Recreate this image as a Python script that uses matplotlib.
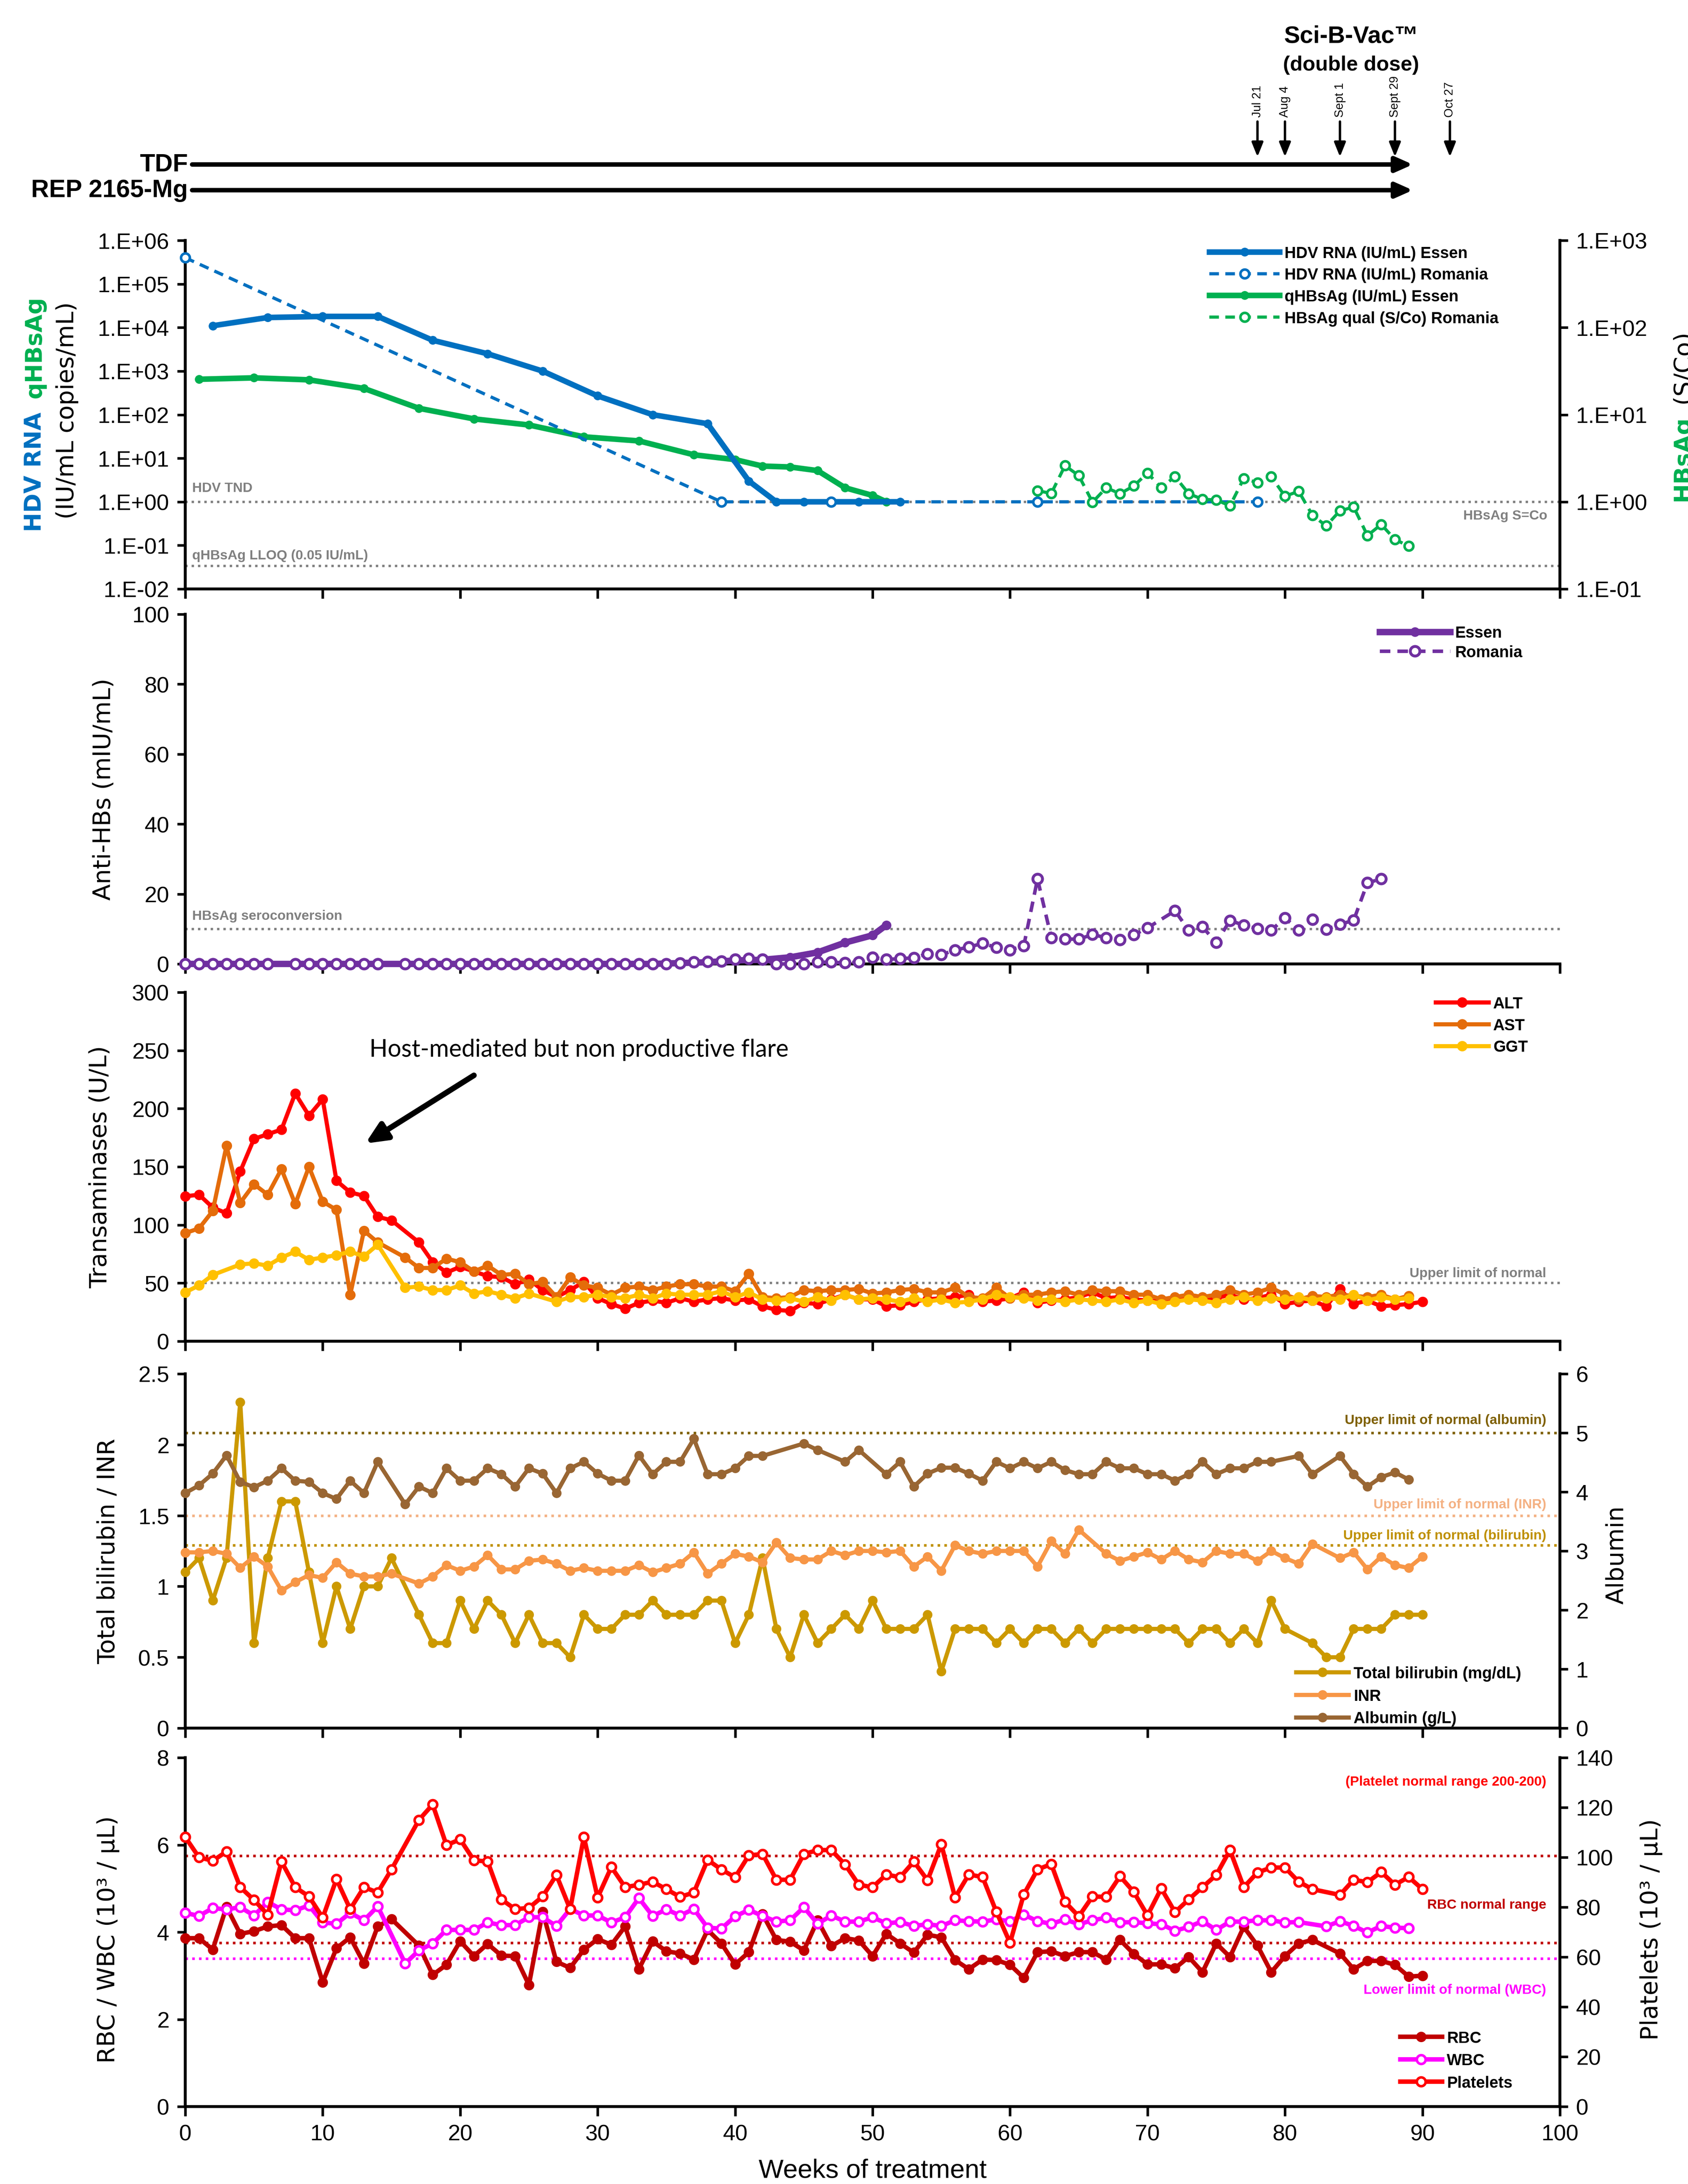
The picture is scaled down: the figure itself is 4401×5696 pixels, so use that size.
import numpy as np
import matplotlib
matplotlib.use('Agg')
import matplotlib.pyplot as plt

plt.rcParams['font.family'] = ['Liberation Sans', 'DejaVu Sans']
plt.rcParams['axes.linewidth'] = 1.8

# ---------------- header (treatment bars, vaccine doses) ----------------
drug_labels = ['TDF', 'REP 2165-Mg']
drug_end_week = 89.3
vac_weeks = [78, 80, 84, 88, 92]
vac_dates = ['Jul 21', 'Aug 4', 'Sept 1', 'Sept 29', 'Oct 27']

# ---------------- panel 1: HDV RNA / HBsAg ----------------
hdv_essen_wk = [2, 6, 10, 14, 18, 22, 26, 30, 34, 38, 41, 43, 45, 49, 52]
hdv_essen = [1.1e4, 1.7e4, 1.8e4, 1.8e4, 5.1e3, 2.5e3, 1.0e3, 2.7e2, 1.0e2, 62, 3.0, 1, 1, 1, 1]
hdv_rom_wk = [0, 39, 47, 62, 78]
hdv_rom = [4.0e5, 1, 1, 1, 1]
qhbs_essen_wk = [1, 5, 9, 13, 17, 21, 25, 29, 33, 37, 40, 42, 44, 46, 48, 50, 51]
qhbs_essen = [650, 700, 630, 400, 140, 80, 58, 31, 25, 12, 9.3, 6.6, 6.3, 5.2, 2.1, 1.4, 1.0]
hbs_qual_wk = list(range(62, 90))
hbs_qual = [1.34, 1.25, 2.6, 2.0, 0.99, 1.45, 1.24, 1.52, 2.14, 1.45, 1.95, 1.24, 1.07, 1.05,
            0.90, 1.85, 1.66, 1.95, 1.16, 1.32, 0.70, 0.53, 0.79, 0.87, 0.41, 0.55, 0.37, 0.31]

# ---------------- panel 2: anti-HBs ----------------
ab_essen_wk = [0, 2, 6, 10, 14, 18, 22, 26, 30, 34, 38, 40, 42, 44, 46, 48, 50, 51]
ab_essen = [0, 0, 0, 0, 0, 0, 0, 0, 0, 0, 0.5, 1.0, 1.2, 1.9, 3.3, 6.1, 8.2, 11.1]
ab_rom_wk = ([0, 1, 2, 3, 4, 5, 6, 8, 9, 10, 11, 12, 13, 14] + list(range(16, 71)) + list(range(72, 88)))
ab_rom = [0, 0, 0, 0, 0, 0, 0, 0, 0, 0, 0, 0, 0, 0,
          0, 0, 0, 0, 0, 0, 0, 0, 0, 0, 0, 0, 0, 0, 0, 0, 0, 0, 0, 0,
          0.2, 0.5, 0.7, 0.8, 1.3, 1.5, 1.3, 0.0, 0.0, 0.0, 0.5, 0.5, 0.3, 0.5, 1.9,
          1.3, 1.5, 1.75, 2.9, 2.6, 4.0, 4.8, 5.9, 4.7, 4.0, 5.2, 24.3, 7.5, 7.1, 7.1, 8.4,
          7.5, 6.9, 8.3, 10.3,
          15.2, 9.6, 10.6, 6.1, 12.4, 11.1, 10.1, 9.6, 13.2, 9.6, 12.7, 9.9, 11.3, 12.5, 23.2, 24.3]

# ---------------- panel 3: transaminases ----------------
alt_wk = list(range(0, 16)) + list(range(17, 91))
alt = [124.6, 126, 115, 110, 146, 174, 178, 182, 213, 194, 208, 138, 128, 125, 107, 104,
       85, 68, 59, 64, 60, 56, 55, 49, 53, 44, 38, 44, 51, 37, 32, 28, 33, 35, 33, 37, 34,
       36, 37, 35, 36, 30, 27, 26, 33, 32, 36, 40, 36, 36, 30, 31, 34, 36, 37, 38, 40, 34, 35,
       37, 42, 33, 35, 36, 38, 42, 37, 38, 36, 35, 34, 36, 38, 36, 37, 40, 36, 37, 40, 32, 34,
       35, 30, 45, 32, 35, 30, 31, 32, 34]
ast_wk = list(range(0, 15)) + list(range(16, 90))
ast = [93, 97, 112, 168, 119, 135, 126, 148, 118, 150, 120, 113, 40, 95, 85,
       72, 63, 63, 71, 68, 60, 65, 57, 58, 49, 51, 38, 55, 48, 46, 40, 46, 47, 44, 47, 49, 49,
       47, 47, 43, 58, 38, 37, 38, 44, 43, 44, 44, 45, 41, 42, 44, 45, 42, 42, 46, 38, 37, 46,
       37, 40, 40, 42, 43, 40, 44, 43, 43, 40, 40, 36, 38, 40, 38, 40, 44, 40, 42, 46, 40, 36,
       39, 38, 40, 39, 38, 40, 36, 39]
ggt_wk = [0, 1, 2] + list(range(4, 15)) + list(range(16, 26)) + list(range(27, 90))
ggt = [42, 48, 57, 66, 67, 65, 72, 77, 70, 72, 74, 77, 73, 83,
       46, 47, 44, 44, 48, 41, 43, 40, 37, 41,
       34, 38, 38, 40, 38, 37, 40, 37, 41, 40, 40,
       40, 43, 38, 42, 36, 35, 37, 34, 38, 35, 40, 36, 37, 36, 34, 37, 34, 36, 33, 34,
       36, 40, 38, 37, 35, 36, 34, 36, 35, 34, 36, 33, 35, 32, 34, 36, 35, 33, 36, 38,
       35, 37, 36, 38, 35, 37, 36, 40, 35, 38, 36, 37]

# ---------------- panel 4: bilirubin / INR / albumin ----------------
bili_wk = list(range(0, 16)) + list(range(17, 81)) + list(range(82, 91))
bili = [1.1, 1.2, 0.9, 1.2, 2.3, 0.6, 1.2, 1.6, 1.6, 1.1, 0.6, 1.0, 0.7, 1.0, 1.0, 1.2,
        0.8, 0.6, 0.6, 0.9, 0.7, 0.9, 0.8, 0.6, 0.8, 0.6, 0.6, 0.5, 0.8, 0.7, 0.7, 0.8, 0.8,
        0.9, 0.8, 0.8, 0.8, 0.9, 0.9, 0.6, 0.8, 1.2, 0.7, 0.5, 0.8, 0.6, 0.7, 0.8, 0.7, 0.9,
        0.7, 0.7, 0.7, 0.8, 0.4, 0.7, 0.7, 0.7, 0.6, 0.7, 0.6, 0.7, 0.7, 0.6, 0.7, 0.6, 0.7,
        0.7, 0.7, 0.7, 0.7, 0.7, 0.6, 0.7, 0.7, 0.6, 0.7, 0.6, 0.9, 0.7,
        0.6, 0.5, 0.5, 0.7, 0.7, 0.7, 0.8, 0.8, 0.8]
inr_wk = list(range(0, 16)) + list(range(17, 66)) + list(range(67, 83)) + list(range(84, 91))
inr = [1.24, 1.24, 1.25, 1.23, 1.13, 1.21, 1.14, 0.97, 1.03, 1.08, 1.06, 1.17, 1.09, 1.07, 1.07, 1.09,
       1.02, 1.07, 1.15, 1.11, 1.14, 1.22, 1.12, 1.12, 1.18, 1.19, 1.16, 1.11, 1.13, 1.11, 1.11,
       1.11, 1.15, 1.10, 1.13, 1.16, 1.24, 1.09, 1.16, 1.23, 1.21, 1.17, 1.31, 1.20, 1.19, 1.19,
       1.25, 1.22, 1.25, 1.25, 1.24,
       1.25, 1.14, 1.21, 1.11, 1.29, 1.25, 1.23, 1.25, 1.25, 1.25, 1.14, 1.32, 1.23, 1.40,
       1.23, 1.18, 1.21, 1.24, 1.19, 1.25, 1.19, 1.17, 1.25, 1.23, 1.23, 1.18, 1.25, 1.20, 1.16, 1.30,
       1.20, 1.24, 1.12, 1.21, 1.15, 1.13, 1.21]
alb_wk = (list(range(0, 15)) + list(range(16, 43)) + [45, 46, 48, 49] + list(range(51, 80))
          + [81, 82, 84, 85, 86, 87, 88, 89])
alb = [3.98, 4.11, 4.31, 4.62, 4.17, 4.08, 4.19, 4.40, 4.19, 4.17, 3.98, 3.88, 4.19, 3.98, 4.51,
       3.79, 4.09, 3.98, 4.40, 4.19, 4.19, 4.40, 4.30, 4.09, 4.40, 4.31, 3.98, 4.40, 4.51, 4.31,
       4.19, 4.19, 4.62, 4.30, 4.51, 4.51, 4.90, 4.30, 4.30, 4.40, 4.61, 4.61,
       4.82, 4.71, 4.51, 4.71,
       4.30, 4.51, 4.09, 4.31, 4.41, 4.41, 4.31, 4.19, 4.51, 4.40, 4.51, 4.40, 4.51, 4.37, 4.30,
       4.30, 4.51, 4.40, 4.40, 4.30, 4.30, 4.19, 4.30, 4.51, 4.30, 4.40, 4.40, 4.51, 4.51,
       4.61, 4.30, 4.61, 4.30, 4.09, 4.25, 4.33, 4.21]

# ---------------- panel 5: RBC / WBC / platelets ----------------
plt_wk = list(range(0, 16)) + list(range(17, 83)) + list(range(84, 91))
platelets = [108.1, 100.0, 98.6, 102.3, 88.0, 82.9, 77.0, 98.3, 88.0, 84.3, 75.8, 91.2, 79.2, 88.0, 85.9, 95.1,
             115.0, 121.2, 104.9, 107.2, 98.8, 98.3, 83.1, 79.2, 79.7, 84.3, 92.9, 79.2, 108.1, 83.9,
             96.1, 88.0, 89.0, 90.2, 87.2, 84.1, 85.9, 99.0, 95.1, 92.0, 100.8, 101.3, 91.0, 91.0,
             101.3, 102.9, 102.9, 97.1, 89.0, 88.0,
             93.1, 92.0, 98.3, 90.8, 105.2, 83.9, 93.1, 92.1, 78.2, 65.7, 85.1, 95.1, 97.3, 82.1,
             76.3, 84.3, 84.1, 92.4, 86.1, 76.7, 87.5, 78.0, 83.1, 88.0, 92.9, 102.9, 88.0, 93.9,
             95.9, 95.9, 90.2, 87.2,
             84.9, 91.0, 90.0, 94.1, 89.0, 92.1, 87.2]
rbc_wk = list(range(0, 16)) + list(range(17, 83)) + list(range(84, 91))
rbc = [3.86, 3.86, 3.60, 4.58, 3.96, 4.02, 4.13, 4.16, 3.86, 3.86, 2.85, 3.63, 3.88, 3.28, 4.13, 4.30,
       3.69, 3.02, 3.25, 3.79, 3.45, 3.73, 3.46, 3.45, 2.79, 4.47, 3.32, 3.18, 3.60, 3.84, 3.71,
       4.13, 3.15, 3.79, 3.56, 3.51, 3.37, 4.05, 3.74, 3.26, 3.54, 4.41, 3.82, 3.78, 3.58, 4.27,
       3.68, 3.86, 3.81, 3.45,
       3.96, 3.74, 3.53, 3.94, 3.88, 3.36, 3.15, 3.37, 3.36, 3.25, 2.95, 3.54, 3.56, 3.45, 3.54,
       3.54, 3.37, 3.82, 3.50, 3.26, 3.26, 3.17, 3.43, 3.08, 3.74, 3.43, 4.12, 3.69, 3.08, 3.45,
       3.74, 3.82,
       3.51, 3.15, 3.34, 3.34, 3.25, 2.98, 3.00]
wbc_wk = list(range(0, 15)) + list(range(16, 82)) + list(range(83, 90))
wbc = [4.44, 4.37, 4.55, 4.52, 4.57, 4.38, 4.69, 4.52, 4.50, 4.61, 4.22, 4.19, 4.44, 4.27, 4.59,
       3.28, 3.58, 3.74, 4.05, 4.05, 4.05, 4.22, 4.16, 4.16, 4.34, 4.34, 4.14, 4.53, 4.38, 4.38,
       4.22, 4.34, 4.78, 4.37, 4.52, 4.38, 4.53, 4.10, 4.08, 4.36, 4.51, 4.37, 4.24, 4.27, 4.57,
       4.19, 4.38, 4.24, 4.24, 4.34,
       4.20, 4.23, 4.14, 4.18, 4.14, 4.27, 4.25, 4.24, 4.29, 4.25, 4.40, 4.25, 4.19, 4.29, 4.18,
       4.27, 4.33, 4.22, 4.23, 4.20, 4.18, 4.03, 4.12, 4.25, 4.05, 4.24, 4.24, 4.27, 4.27, 4.22, 4.23,
       4.13, 4.25, 4.14, 3.99, 4.14, 4.10, 4.09]

# colours
BLUE, GREEN, PURPLE = '#0070C0', '#00B050', '#7030A0'
C_ALT, C_AST, C_GGT = '#FF0000', '#E46C0A', '#FFC000'
C_BILI, C_INR, C_ALB = '#CC9900', '#F79646', '#996633'
C_RBC, C_WBC, C_PLT = '#C00000', '#FF00FF', '#FF0000'
GREY = '#808080'

FW, FH = 4401, 5697
fig = plt.figure(figsize=(FW / 300, FH / 300), dpi=300)

L = 483 / FW
W = (4067 - 483) / FW


def rect(top_px, bot_px):
    return [L, 1 - bot_px / FH, W, (bot_px - top_px) / FH]


def make_ax(r, show_x=False):
    ax = fig.add_axes(r)
    ax.set_xlim(0, 100)
    ax.set_xticks(range(0, 101, 10))
    ax.tick_params(axis='y', direction='out', length=5, width=1.6, labelsize=14, pad=5)
    ax.tick_params(axis='x', direction='out', length=6, width=1.6, labelsize=14, pad=5,
                   labelbottom=show_x)
    ax.spines['top'].set_visible(False)
    ax.spines['right'].set_visible(False)
    return ax


def make_twin(ax):
    tw = ax.twinx()
    tw.spines['top'].set_visible(False)
    tw.spines['left'].set_visible(False)
    tw.spines['bottom'].set_visible(False)
    tw.spines['right'].set_linewidth(1.8)
    tw.tick_params(axis='y', direction='out', length=5, width=1.6, labelsize=14, pad=5)
    return tw


def ylab(ax, text, x, y=0.5):
    ax.set_ylabel(text, fontsize=15, fontfamily='DejaVu Sans')
    ax.yaxis.set_label_coords(x, y)


def note(ax, x, y, text, color, ha='right', va='bottom', size=8.5):
    ax.text(x, y, text, color=color, ha=ha, va=va, fontsize=size, fontweight='bold')


# ================= header =================
HH = 560
axh = fig.add_axes([L, 1 - HH / FH, W, HH / FH])
axh.set_xlim(0, 100)
axh.set_ylim(HH, 0)
axh.axis('off')
for yy, lab in zip([430, 497], drug_labels):
    axh.annotate('', xy=(drug_end_week, yy), xytext=(0.5, yy),
                 arrowprops=dict(arrowstyle='-|>,head_length=0.45,head_width=0.2', lw=2.8,
                                 color='black', mutation_scale=20, shrinkA=0, shrinkB=0))
    axh.text(0.2, yy, lab, ha='right', va='center', fontsize=15.5, fontweight='bold')
for wk, dt in zip(vac_weeks, vac_dates):
    axh.annotate('', xy=(wk, 410), xytext=(wk, 318),
                 arrowprops=dict(arrowstyle='-|>,head_length=0.5,head_width=0.2', lw=1.5,
                                 color='black', mutation_scale=15, shrinkA=0, shrinkB=0))
    axh.text(wk, 306, dt, rotation=90, ha='center', va='bottom', fontsize=7.5)
axh.text(84.8, 95, 'Sci-B-Vac\u2122', ha='center', va='center', fontsize=15, fontweight='bold')
axh.text(84.8, 170, '(double dose)', ha='center', va='center', fontsize=13, fontweight='bold')

# ================= panel 1 =================
ax1 = make_ax(rect(628, 1537))
ax1.set_yscale('log')
ax1.set_ylim(1e-2, 1e6)
ax1.set_yticks([10.0 ** e for e in range(-2, 7)], [f'1.E{e:+03d}' for e in range(-2, 7)])
ax1.minorticks_off()
ax1.axhline(1.0, color=GREY, ls=':', lw=1.5, zorder=1)
ax1.axhline(0.0338, color=GREY, ls=':', lw=1.5, zorder=1)
note(ax1, 0.5, 1.5, 'HDV TND', GREY, ha='left')
note(ax1, 0.5, 0.042, 'qHBsAg LLOQ (0.05 IU/mL)', GREY, ha='left')
note(ax1, 99.1, 0.68, 'HBsAg S=Co', GREY, va='top')
l_he, = ax1.plot(hdv_essen_wk, hdv_essen, color=BLUE, lw=3.5, marker='o', ms=4.5,
                 label='HDV RNA (IU/mL) Essen', clip_on=False, zorder=4)
l_hr, = ax1.plot(hdv_rom_wk, hdv_rom, color=BLUE, lw=2, ls=(0, (3, 2)), marker='o', ms=5.5,
                 mfc='white', mew=1.6, label='HDV RNA (IU/mL) Romania', clip_on=False, zorder=5)
l_qe, = ax1.plot(qhbs_essen_wk, qhbs_essen, color=GREEN, lw=3.5, marker='o', ms=4.5,
                 label='qHBsAg (IU/mL) Essen', clip_on=False, zorder=3)
ax1r = make_twin(ax1)
ax1r.set_yscale('log')
ax1r.set_ylim(1e-1, 1e3)
ax1r.set_yticks([10.0 ** e for e in range(-1, 4)], [f'1.E{e:+03d}' for e in range(-1, 4)])
ax1r.minorticks_off()
l_qr, = ax1r.plot(hbs_qual_wk, hbs_qual, color=GREEN, lw=2, ls=(0, (3, 2)), marker='o', ms=5.5,
                  mfc='white', mew=1.6, label='HBsAg qual (S/Co) Romania')
ax1r.legend(handles=[l_he, l_hr, l_qe, l_qr], loc='upper left', bbox_to_anchor=(0.745, 0.985),
            frameon=False, prop={'weight': 'bold', 'size': 10}, handlelength=4.4,
            handletextpad=0.3, labelspacing=0.4, borderpad=0, borderaxespad=0)
fig.text(61 / FW, 1 - 1387 / FH, 'HDV RNA', rotation=90, ha='left', va='bottom', color=BLUE,
         fontsize=14.5, fontweight='bold', fontfamily='DejaVu Sans')
fig.text(61 / FW, 1 - 1039 / FH, 'qHBsAg', rotation=90, ha='left', va='bottom', color=GREEN,
         fontsize=14.5, fontweight='bold', fontfamily='DejaVu Sans')
fig.text(145 / FW, 1 - 1071 / FH, '(IU/mL copies/mL)', rotation=90, ha='left', va='center',
         fontsize=15, fontfamily='DejaVu Sans')
fig.text(4357 / FW, 1 - 1307 / FH, 'HBsAg', rotation=90, ha='left', va='bottom', color=GREEN,
         fontsize=14.5, fontweight='bold', fontfamily='DejaVu Sans')
fig.text(4357 / FW, 1 - 1052 / FH, '(S/Co)', rotation=90, ha='left', va='bottom',
         fontsize=15, fontfamily='DejaVu Sans')

# ================= panel 2 =================
ax2 = make_ax(rect(1603, 2515))
ax2.set_ylim(0, 100)
ax2.set_yticks(range(0, 101, 20))
ax2.axhline(10, color=GREY, ls=':', lw=1.5, zorder=1)
note(ax2, 0.5, 12.0, 'HBsAg seroconversion', GREY, ha='left')
l_ae, = ax2.plot(ab_essen_wk, ab_essen, color=PURPLE, lw=4, marker='o', ms=5,
                 label='Essen', clip_on=False, zorder=4)
l_ar, = ax2.plot(ab_rom_wk, ab_rom, color=PURPLE, lw=2.2, ls=(0, (3, 2)), marker='o', ms=6,
                 mfc='white', mew=1.8, label='Romania', clip_on=False, zorder=5)
ax2.legend(handles=[l_ae, l_ar], loc='upper left', bbox_to_anchor=(0.869, 0.968),
           frameon=False, prop={'weight': 'bold', 'size': 10}, handlelength=4.4,
           handletextpad=0.3, labelspacing=0.25, borderpad=0, borderaxespad=0)
ylab(ax2, 'Anti-HBs (mIU/mL)', -0.051)

# ================= panel 3 =================
ax3 = make_ax(rect(2589, 3499))
ax3.set_ylim(0, 300)
ax3.set_yticks(range(0, 301, 50))
ax3.axhline(50, color=GREY, ls=':', lw=1.5, zorder=1)
note(ax3, 99, 53, 'Upper limit of normal', GREY)
l_alt, = ax3.plot(alt_wk, alt, color=C_ALT, lw=2.6, marker='o', ms=5.5, label='ALT',
                  clip_on=False, zorder=4)
l_ast, = ax3.plot(ast_wk, ast, color=C_AST, lw=2.6, marker='o', ms=5.5, label='AST',
                  clip_on=False, zorder=5)
l_ggt, = ax3.plot(ggt_wk, ggt, color=C_GGT, lw=2.6, marker='o', ms=5.5, label='GGT',
                  clip_on=False, zorder=6)
ax3.legend(handles=[l_alt, l_ast, l_ggt], loc='upper left', bbox_to_anchor=(0.9096, 0.989),
           frameon=False, prop={'weight': 'bold', 'size': 10}, handlelength=3.3,
           handletextpad=0.3, labelspacing=0.4, borderpad=0, borderaxespad=0)
ax3.annotate('', xy=(13.1, 170), xytext=(21.0, 228.6),
             arrowprops=dict(arrowstyle='-|>,head_length=0.55,head_width=0.25', lw=3.5,
                             color='black', mutation_scale=20, shrinkA=0, shrinkB=0))
ax3.text(13.4, 251, 'Host-mediated but non productive flare', ha='left', va='center',
         fontsize=15, fontfamily='Lato')
ylab(ax3, 'Transaminases (U/L)', -0.0536)

# ================= panel 4 =================
ax4 = make_ax(rect(3584, 4508))
ax4.set_ylim(0, 2.5)
ax4.set_yticks([0, 0.5, 1, 1.5, 2, 2.5], ['0', '0.5', '1', '1.5', '2', '2.5'])
ax4.axhline(2.5 * 5 / 6, color='#7F6000', ls=':', lw=1.6, zorder=1)
ax4.axhline(1.5, color='#F4B183', ls=':', lw=1.6, zorder=1)
ax4.axhline(1.29, color='#BF9000', ls=':', lw=1.6, zorder=1)
note(ax4, 99, 2.13, 'Upper limit of normal (albumin)', '#7F6000')
note(ax4, 99, 1.535, 'Upper limit of normal (INR)', '#F4B183')
note(ax4, 99, 1.315, 'Upper limit of normal (bilirubin)', '#BF9000')
l_bili, = ax4.plot(bili_wk, bili, color=C_BILI, lw=2.6, marker='o', ms=5,
                   label='Total bilirubin (mg/dL)', clip_on=False, zorder=4)
l_inr, = ax4.plot(inr_wk, inr, color=C_INR, lw=2.6, marker='o', ms=5, label='INR',
                  clip_on=False, zorder=5)
ylab(ax4, 'Total bilirubin / INR', -0.0477)
ax4r = make_twin(ax4)
ax4r.set_ylim(0, 6)
ax4r.set_yticks(range(0, 7))
l_alb, = ax4r.plot(alb_wk, alb, color=C_ALB, lw=2.6, marker='o', ms=5, label='Albumin (g/L)',
                   clip_on=False)
ax4r.legend(handles=[l_bili, l_inr, l_alb], loc='lower left', bbox_to_anchor=(0.808, 0.005),
            frameon=False, prop={'weight': 'bold', 'size': 10}, handlelength=3.3,
            handletextpad=0.3, labelspacing=0.45, borderpad=0, borderaxespad=0)
ax4r.set_ylabel('Albumin', fontsize=15, fontfamily='DejaVu Sans')
ax4r.yaxis.set_label_coords(1.033, 0.49)

# ================= panel 5 =================
ax5 = make_ax(rect(4585, 5495), show_x=True)
ax5.set_ylim(0, 8)
ax5.set_yticks(range(0, 9, 2))
ax5.axhline(5.75, color=C_RBC, ls=':', lw=1.6, zorder=1)
ax5.axhline(3.75, color=C_RBC, ls=':', lw=1.6, zorder=1)
ax5.axhline(3.39, color=C_WBC, ls=':', lw=1.6, zorder=1)
note(ax5, 99, 7.45, '(Platelet normal range 200-200)', C_PLT, va='center')
note(ax5, 99, 4.63, 'RBC normal range', C_RBC, va='center')
note(ax5, 99, 2.68, 'Lower limit of normal (WBC)', C_WBC, va='center')
l_rbc, = ax5.plot(rbc_wk, rbc, color=C_RBC, lw=2.8, marker='o', ms=5.5, label='RBC',
                  clip_on=False, zorder=4)
l_wbc, = ax5.plot(wbc_wk, wbc, color=C_WBC, lw=2.8, marker='o', ms=5.5, mfc='white', mew=1.6,
                  label='WBC', clip_on=False, zorder=5)
ylab(ax5, 'RBC / WBC (10\u00b3 / \u00b5L)', -0.0477, 0.48)
ax5r = make_twin(ax5)
ax5r.set_ylim(0, 140)
ax5r.set_yticks(range(0, 141, 20))
l_plt, = ax5r.plot(plt_wk, platelets, color=C_PLT, lw=2.8, marker='o', ms=5.5, mfc='white',
                   mew=1.6, label='Platelets', clip_on=False)
ax5r.legend(handles=[l_rbc, l_wbc, l_plt], loc='lower left', bbox_to_anchor=(0.884, 0.045),
            frameon=False, prop={'weight': 'bold', 'size': 10}, handlelength=2.6,
            handletextpad=0.3, labelspacing=0.45, borderpad=0, borderaxespad=0)
ax5r.set_ylabel('Platelets (10\u00b3 / \u00b5L)', fontsize=15, fontfamily='DejaVu Sans')
ax5r.yaxis.set_label_coords(1.058, 0.508)

fig.text(L + W / 2, 1 - 5662 / FH, 'Weeks of treatment', ha='center', va='center', fontsize=16.5)

fig.savefig('out.png', dpi=300)
